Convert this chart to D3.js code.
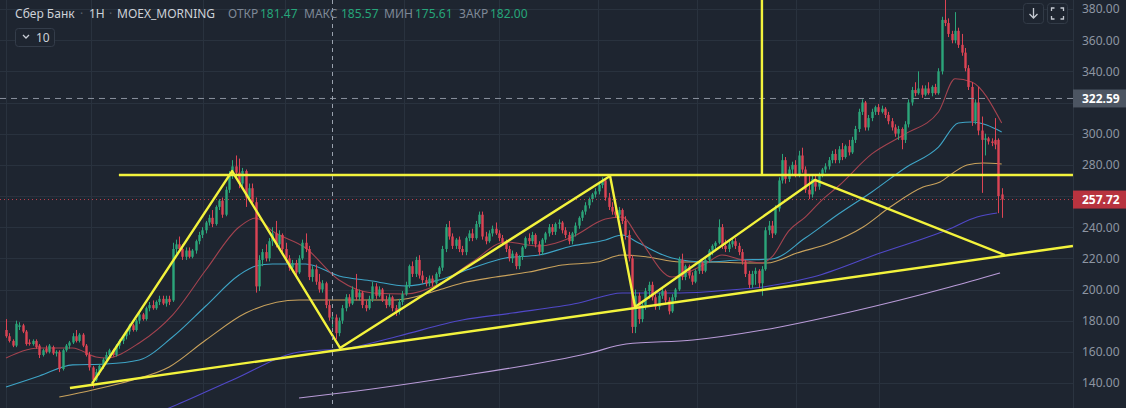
<!DOCTYPE html>
<html><head><meta charset="utf-8">
<script src="https://cdn.jsdelivr.net/npm/d3@7"></script>
<style>html,body{margin:0;padding:0;background:#1e2530;overflow:hidden}</style>
</head><body><svg id="c" width="1126" height="408"></svg>
<script>
// ---- data (hourly candles) ----
const opens=[174,170,167,164,176,177,173,166,165,167,164,158,162,160,163,159,160,149,161,164,166,170,167,171,164,158,150,142,147,151,155,158,161,158,164,167,170,173,177,174,180,184,181,188,190,188,192,194,191,194,193,226,229,226,221,225,221,225,231,235,238,243,246,242,253,257,248,264,274,279,275,268,276,259,265,256,202,219,224,220,231,236,229,235,226,220,214,217,211,220,230,226,208,213,205,200,204,190,181.47,182,172,180,188,195,191,200,195,198,190,188,194,202,196,200,193,190,195,188,186,192,197,203,215,210,219,209,206,204,207,204,210,214,226,240,234,228,232,226,224,233,236,233,242,248,234,231,236,239,236,233,230,226,220,223,215,221,227,233,231,235,229,224,232,236,240,237,242,243,238,235,231,236,241,246,250,254,258,261,263,267,270,259,253,250,248,251,244,235,220,176,196,181,190,199,203,195,189,196,199,193,186,195,200,219,208,215,209,205,212,217,212,219,225,228,230,240,228,226,229,231,228,224,218,210,203,210,212,204,213,238,241,236,252,270,283,271,277,280,274,286,277,264,261,271,266,274,277,279,283,287,283,290,285,292,288,296,303,314,320,304,310,314,317,314,316,312,308,304,300,303,296,306,320,328,326,329,325,329,326,330,326,340,373,371,364,360,366,357,352,342,330,308,320,302,296,297,295,296,296,261];
const highs=[181,172,168,180,179,178,174,168,168,168,165,162,164,165,164,161,161,162,165,167,172,174,172,172,165,160,151,149,152,156,160,162,162,165,168,171,174,178,178,181,185,185,189,192,193,193,196,196,196,196,230,232,234,229,227,227,226,232,237,240,244,248,251,254,258,259,266,276,283,286,284,278,277,268,268,259,222,226,229,233,240,244,238,236,230,222,219,219,222,232,236,228,215,216,210,206,205,193,185.57,184,182,190,197,197,202,210,200,199,193,196,205,204,202,201,196,197,196,190,194,199,205,216,218,221,222,212,208,209,209,211,215,228,242,244,236,233,234,228,234,238,239,244,250,250,237,238,241,243,238,235,232,228,225,224,222,228,234,236,237,236,231,233,237,242,242,243,245,244,240,237,237,243,247,251,256,259,262,265,269,272,271,262,256,254,253,252,247,238,222,200,198,192,201,205,205,197,198,201,200,195,197,201,221,223,216,216,211,213,218,218,220,226,229,231,245,242,232,231,233,233,230,226,219,212,212,214,213,215,240,244,244,254,272,287,285,279,282,283,289,291,279,273,273,274,275,278,281,285,289,290,292,294,293,296,298,305,316,322,321,312,316,318,319,318,317,314,310,306,305,304,308,322,330,333,340,331,331,333,331,332,342,375,386,374,366,378,368,364,355,344,333,322,330,311,300,298,297,310,297,265];
const lows=[169,166,163,163,174,172,164,164,164,162,156,157,159,159,158,157,147,148,160,162,165,166,166,163,157,148,137,141,145,149,153,156,157,157,162,165,168,171,173,173,178,180,180,186,187,187,190,190,189,190,192,223,225,219,219,220,220,223,229,233,236,241,240,241,251,246,247,262,271,272,265,266,253,257,254,198,199,215,218,218,228,227,227,224,217,212,211,208,210,219,224,206,205,203,198,198,188,180,175.61,168,170,178,186,189,190,193,193,188,186,187,192,194,195,192,188,189,186,183,184,190,196,201,208,208,207,204,202,202,202,203,208,212,224,232,226,226,224,222,222,231,231,232,240,232,229,230,234,235,231,229,224,218,217,213,213,219,226,229,229,227,222,222,230,234,235,235,239,236,233,229,229,234,239,244,248,252,256,259,261,265,257,251,248,246,246,242,232,218,172,172,178,179,187,194,193,187,187,194,191,184,185,193,199,206,206,207,203,204,210,210,211,217,222,226,229,226,224,224,227,226,222,216,208,201,201,203,201,196,212,235,233,235,250,268,268,269,274,272,272,275,262,258,259,263,264,272,275,277,281,281,281,283,284,286,287,294,301,312,302,302,308,312,312,313,310,306,302,298,296,290,294,304,318,324,325,323,324,325,324,325,325,338,369,362,358,358,355,350,340,328,305,306,299,262,286,293,292,290,249,246];
const closes=[170,167,164,178,177,173,165,165,167,163,158,161,160,164,159,160,149,161,164,166,170,167,171,164,158,150,142,147,151,155,158,161,158,164,167,170,173,177,174,180,184,181,188,190,188,192,194,191,194,192,226,229,226,221,225,221,225,231,235,238,243,246,242,253,257,248,264,274,279,275,268,276,259,265,256,202,219,224,220,231,236,229,235,226,220,214,217,211,220,230,226,208,213,205,200,204,190,182,182.00,172,180,188,195,191,200,195,198,190,188,194,202,196,200,193,190,195,188,186,192,197,203,215,210,219,209,206,204,207,204,210,214,226,240,234,228,232,226,224,233,236,233,242,248,234,231,236,239,236,233,230,226,220,223,215,221,227,233,231,235,229,224,232,236,240,237,242,243,238,235,231,236,241,246,250,254,258,261,263,267,270,259,253,250,248,251,244,235,220,176,196,181,190,199,203,195,189,196,199,193,186,195,200,219,208,215,209,205,212,217,212,219,225,228,230,240,228,226,229,231,228,224,218,210,203,210,212,204,213,238,241,236,252,270,283,271,277,280,274,286,277,264,261,271,266,274,277,279,283,287,283,290,285,292,288,296,303,314,320,304,310,314,317,314,316,312,308,304,300,303,296,306,320,328,326,329,325,329,326,330,326,340,373,371,364,360,366,357,352,342,330,308,320,302,296,297,295,294,293,260,257.72];

// moving averages: [candle index, price]
const maFast=[[0,156],[10,162.5],[20,162.5],[27,156.7],[30,156],[40,165.7],[50,183.6],[60,212.5],[70,240.1],[75,245.9],[80,237.5],[90,226.6],[100,206.1],[110,197.8],[120,197.1],[130,203.5],[140,217.6],[150,230.5],[160,227.9],[170,233.7],[180,245.2],[185,246.5],[190,233],[200,208],[205,211.2],[210,216.4],[215,222.1],[220,219.6],[227,217],[230,220.9],[235,237.5],[240,246.5],[245,257.4],[250,266.4],[260,287],[270,299.8],[280,313.9],[285,335.2],[290,333.2],[299,306.8]];
const maMid=[[0,137.4],[10,144.5],[20,151.6],[30,152.2],[40,154.8],[50,169.5],[60,189.4],[70,209.3],[75,215.1],[80,216.4],[90,216.4],[100,208.7],[110,205.5],[120,202.2],[130,206.1],[140,213.8],[150,220.2],[160,222.1],[170,227.9],[180,231.8],[185,235],[190,229.8],[200,220.2],[210,217.6],[220,218.9],[230,219.6],[240,233],[250,248.4],[260,262.6],[270,278],[280,291.4],[286,306.8],[290,307.5],[299,301.1]];
const maSlow=[[16,131],[26,135.5],[38,141.9],[49,150.3],[60,167.6],[72,184.9],[88,193.3],[103,193.3],[117,193.3],[130,199.7],[137,204.2],[147,208],[157,211.2],[167,215.7],[177.5,217.6],[185,222.1],[192.5,220.9],[202.4,217.6],[212,217.6],[222.5,217],[228.5,217],[237.5,223.4],[247.5,229.8],[257.4,240.1],[265.5,252.9],[275.4,265.8],[280.5,269],[284.4,274.8],[288.6,279.9],[293.4,281.2],[299,280.5]];
const ma200=[[43,119],[49,124],[68,141.9],[88,159.9],[103,162.5],[118,170.2],[137,180.4],[152,184.9],[172,191.3],[185,197.8],[202.4,197.8],[217.4,199.7],[227.3,201.6],[242.3,208],[262.5,223.4],[282.6,238.2],[291.6,246.5],[297.6,249.1]];
const ma400=[[88,130.4],[103,134.2],[132.4,143.2],[175.4,159.3],[186.2,165],[206.3,167.6],[227.3,174],[253.5,185.6],[283.5,201.6],[298.5,210.6]];

// hand-drawn annotation lines: [candle index, price]
const zigzag=[[25.8,139.4],[67.9,276],[100.3,162.5],[181.4,272.8],[188.9,188.8],[242.9,270.3],[300,222.1]];
const supportLine=[[19.2,136.8],[320.4,227.9]];
const resistLine=[[33.9,273.5],[320.4,273.5]];
const verticalLine=[[227,273.5],[227,400]];

const gridPrices=[140,160,180,200,220,240,260,280,300,320,340,360,380];
const axisPrices=[140,160,180,200,220,240,280,300,340,360,380];
const gridIdx=[0,25.5,59.2,83.8,119.5,148,177.8,207.5,237.2,262.2];
const crossIdx=98;
const markPrice=322.59;
const lastPrice=257.72;
// legend pieces: text, colour role, x position in px
const legendItems=[["Сбер Банк","t",15],["·","s",80],["1H","t",89],["·","s",109],["MOEX_MORNING","t",117],
  ["ОТКР","l",228],["181.47","v",260],["МАКС","l",304],["185.57","v",341],["МИН","l",384],["175.61","v",415],["ЗАКР","l",459],["182.00","v",490]];

// ---- drawing ----
const W=1126,H=408,PR=1073;
const N=closes.length;
const x=d3.scaleLinear().domain([0,N-1]).range([6,1001.7]);
const y=d3.scaleLinear().domain([140,380]).range([383,9]);
const svg=d3.select('#c');
const FF='Noto Sans, sans-serif';
svg.append('rect').attr('width',W).attr('height',H).attr('fill','#1e2530');
svg.append('clipPath').attr('id','plot').append('rect').attr('width',PR).attr('height',H);
const g=svg.append('g').attr('clip-path','url(#plot)');

g.selectAll('.hg').data(gridPrices).join('line')
  .attr('x1',0).attr('x2',PR).attr('y1',d=>Math.round(y(d))+.5).attr('y2',d=>Math.round(y(d))+.5)
  .attr('stroke','#29323e').attr('stroke-width',1);
g.selectAll('.vg').data(gridIdx).join('line')
  .attr('x1',d=>Math.round(x(d))+.5).attr('x2',d=>Math.round(x(d))+.5).attr('y1',0).attr('y2',H)
  .attr('stroke','#29323e').attr('stroke-width',1);

const ln=d3.line().x(d=>x(d[0])).y(d=>y(d[1])).curve(d3.curveMonotoneX);
const mas=[[ma400,'#b99bd8'],[ma200,'#5048c8'],[maSlow,'#c9a25c'],[maMid,'#3ea4c6'],[maFast,'#a4434f']];
mas.forEach(([d,c])=>g.append('path').attr('d',ln(d)).attr('fill','none').attr('stroke',c).attr('stroke-width',1.1));

const idx=d3.range(N);
const up='#2ba57a',dn='#dc4454';
const col=i=>closes[i]>=opens[i]?up:dn;
const bw=2.4;
g.selectAll('.wk').data(idx).join('line')
  .attr('x1',i=>Math.round(x(i))+.5).attr('x2',i=>Math.round(x(i))+.5)
  .attr('y1',i=>y(highs[i])).attr('y2',i=>y(lows[i])).attr('stroke',col).attr('stroke-width',1);
g.selectAll('.bd').data(idx).join('rect')
  .attr('x',i=>Math.round(x(i))+.5-bw/2).attr('width',bw)
  .attr('y',i=>y(Math.max(opens[i],closes[i])))
  .attr('height',i=>Math.max(1,Math.abs(y(opens[i])-y(closes[i])))).attr('fill',col);

// reference lines
g.append('line').attr('x1',0).attr('x2',PR).attr('y1',y(markPrice)).attr('y2',y(markPrice))
  .attr('stroke','#8a929e').attr('stroke-dasharray','6,5').attr('stroke-width',1);
g.append('line').attr('x1',0).attr('x2',PR).attr('y1',y(lastPrice)).attr('y2',y(lastPrice))
  .attr('stroke','#c2414c').attr('stroke-dasharray','1,3').attr('stroke-width',1);

// yellow annotations
const lnS=d3.line().x(d=>x(d[0])).y(d=>y(d[1]));
[zigzag,supportLine,resistLine,verticalLine].forEach(d=>g.append('path').attr('d',lnS(d))
  .attr('fill','none').attr('stroke','#f3f33c').attr('stroke-width',2.4).attr('stroke-linejoin','round'));

// crosshair
svg.append('line').attr('x1',Math.round(x(crossIdx))+.5).attr('x2',Math.round(x(crossIdx))+.5).attr('y1',0).attr('y2',H)
  .attr('stroke','#9aa2ae').attr('stroke-dasharray','4,4').attr('stroke-width',1);

// price axis
svg.append('line').attr('x1',PR+.5).attr('x2',PR+.5).attr('y1',0).attr('y2',H).attr('stroke','#2b3440');
const ax=svg.append('g').attr('transform',`translate(${PR},0)`)
  .call(d3.axisRight(y).tickValues(axisPrices).tickSize(0).tickPadding(9).tickFormat(d3.format('.2f')));
ax.select('.domain').remove();
ax.selectAll('text').attr('fill','#8d95a2').style('font-family',FF).style('font-size','12px');

function tag(v,bg){
  const yy=y(v);
  svg.append('rect').attr('x',PR).attr('y',yy-9).attr('width',W-PR).attr('height',18).attr('fill',bg);
  svg.append('text').attr('x',PR+9).attr('y',yy).attr('dy','0.35em').text(d3.format('.2f')(v))
    .attr('fill','#ffffff').style('font-family',FF).style('font-size','12px').style('font-weight','bold');
}
tag(markPrice,'#4c5562');
tag(lastPrice,'#b8333f');

// legend
const roleCol={t:'#cdd1d8',s:'#59616d',l:'#7e8896',v:'#26a67a'};
svg.selectAll('.lg').data(legendItems).join('text')
  .attr('x',d=>d[2]).attr('y',18).text(d=>d[0]).attr('fill',d=>roleCol[d[1]])
  .style('font-family',FF).style('font-size','12px');

// indicator toggle
svg.append('rect').attr('x',15.5).attr('y',28.5).attr('width',39).attr('height',18).attr('rx',3)
  .attr('fill','#1e2530').attr('stroke','#343d4a');
svg.append('path').attr('d','M23,35 L26,38 L29,35').attr('fill','none').attr('stroke','#c9ced6').attr('stroke-width',1.3);
svg.append('text').attr('x',36).attr('y',42).text('10').attr('fill','#cdd1d8').style('font-family',FF).style('font-size','12px');

// top-right buttons
svg.append('rect').attr('x',1023.5).attr('y',3.5).attr('width',20).attr('height',20).attr('rx',3).attr('fill','#1e2530').attr('stroke','#323b47');
svg.append('path').attr('d','M1033.5,8 L1033.5,18 M1029.5,14 L1033.5,18 L1037.5,14').attr('fill','none').attr('stroke','#c4c9d1').attr('stroke-width',1.3);
svg.append('rect').attr('x',1047.5).attr('y',3.5).attr('width',20).attr('height',20).attr('rx',3).attr('fill','#1e2530').attr('stroke','#323b47');
svg.append('path').attr('d','M1051.5,11 L1051.5,8 L1054.5,8 M1060.5,8 L1063.5,8 L1063.5,11 M1063.5,16 L1063.5,19 L1060.5,19 M1054.5,19 L1051.5,19 L1051.5,16')
  .attr('fill','none').attr('stroke','#c4c9d1').attr('stroke-width',1.3);
</script></body></html>
